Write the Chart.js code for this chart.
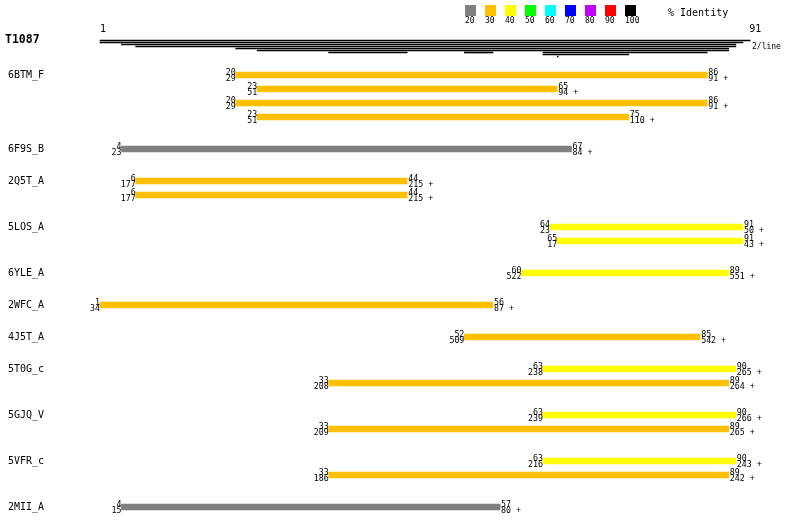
<!DOCTYPE html>
<html><head><meta charset="utf-8">
<script src="https://cdn.jsdelivr.net/npm/chart.js@4/dist/chart.umd.min.js"></script>
<style>html,body{margin:0;padding:0;background:#fff}#wrap{width:800px;height:524px;position:relative;background:#fff}</style>
</head><body><div id="wrap"><canvas id="c" width="800" height="524"></canvas></div>
<script>
// ---------------- data ----------------
const queryName = 'T1087';
const queryLength = 91;
const hitsPerLine = 2;
const groupNames = ['6BTM_F','6F9S_B','2Q5T_A','5LOS_A','6YLE_A','2WFC_A','4J5T_A','5T0G_c','5GJQ_V','5VFR_c','2MII_A'];
const hitGroup      = [0,0,0,0,1,2,2,3,3,4,5,6,7,7,8,8,9,9,10];
const queryStart    = [20,23,20,23,4,6,6,64,65,60,1,52,63,33,63,33,63,33,4];
const queryEnd      = [86,65,86,75,67,44,44,91,91,89,56,85,90,89,90,89,90,89,57];
const templateStart = [29,51,29,51,23,177,177,23,17,522,34,509,238,208,239,209,216,186,15];
const templateEnd   = [91,94,91,110,84,215,215,50,43,551,87,542,265,264,266,265,243,242,80];
const identity      = [30,30,30,30,20,30,30,40,40,40,30,30,40,30,40,30,40,30,20];
const identityBins  = [20,30,40,50,60,70,80,90,100];
const legendTitle = '% Identity';

// ---------------- styles / layout ----------------
const binColors = ['#808080','#ffc000','#ffff00','#00ff00','#00ffff','#0000ff','#c000ff','#ff0000','#000000'];
const firstRowY = 75, rowStep = 14, groupStep = 32;
const coverageTopY = 40.5, coverageStep = 2;

// row positions from group structure
const rowY = [];
hitGroup.forEach((g, i) => {
  if (i === 0) rowY.push(firstRowY);
  else rowY.push(rowY[i-1] + (g === hitGroup[i-1] ? rowStep : groupStep));
});

// coverage depth summary (one line per hitsPerLine hits)
const depth = [];
for (let r = 1; r <= queryLength; r++) {
  let d = 0;
  for (let i = 0; i < queryStart.length; i++) if (queryStart[i] <= r && r <= queryEnd[i]) d++;
  depth.push(d);
}
const coverageData = [{x:[1, queryLength + 1], y: coverageTopY}];
for (let k = 1; ; k++) {
  const thr = hitsPerLine * (k - 1) + 1;
  let any = false, s = null;
  for (let r = 1; r <= queryLength + 1; r++) {
    const ok = r <= queryLength && depth[r-1] >= thr;
    if (ok && s === null) s = r;
    if (!ok && s !== null) { coverageData.push({x:[s, r-1], y: coverageTopY + coverageStep * k}); s = null; any = true; }
  }
  if (!any) break;
}

const hitData = queryStart.map((s, i) => ({x:[s, queryEnd[i]], y: rowY[i]}));
const hitColors = identity.map(v => binColors[identityBins.indexOf(v)]);

const MONO = '"DejaVu Sans Mono", monospace';

const labelPlugin = {
  id: 'labels',
  afterDatasetsDraw(chart) {
    const ctx = chart.ctx, xs = chart.scales.x, ys = chart.scales.y;
    ctx.save();
    ctx.fillStyle = '#000';
    // legend
    identityBins.forEach((b, i) => {
      const lx = 465 + 20 * i;
      ctx.fillStyle = binColors[i];
      ctx.fillRect(lx, 5, 11, 11);
      ctx.fillStyle = '#000';
      ctx.font = '8px ' + MONO; ctx.textAlign = 'left'; ctx.textBaseline = 'alphabetic';
      ctx.fillText(String(b), lx, 22.5);
    });
    ctx.font = '10px ' + MONO;
    ctx.fillText(legendTitle, 668, 15.5);
    // query header
    ctx.font = 'bold 11.5px ' + MONO;
    ctx.fillText(queryName, 5, 43);
    ctx.font = '10px ' + MONO;
    ctx.fillText('1', xs.getPixelForValue(1), 31.5);
    ctx.fillText(String(queryLength), xs.getPixelForValue(queryLength + 1) - 1, 31.5);
    ctx.font = '8px ' + MONO;
    ctx.fillText(hitsPerLine + '/line', 752, 48.5);
    // group names
    ctx.font = '10px ' + MONO; ctx.textBaseline = 'middle';
    groupNames.forEach((n, g) => {
      const i = hitGroup.indexOf(g);
      ctx.fillText(n, 8, ys.getPixelForValue(rowY[i]));
    });
    // residue numbers
    ctx.font = '8.3px ' + MONO; ctx.textBaseline = 'alphabetic';
    queryStart.forEach((s, i) => {
      const y = ys.getPixelForValue(rowY[i]);
      const x0 = xs.getPixelForValue(s), x1 = xs.getPixelForValue(queryEnd[i]);
      ctx.textAlign = 'right';
      ctx.fillText(String(s), x0, y - 0.5);
      ctx.fillText(String(templateStart[i]), x0, y + 5.5);
      ctx.textAlign = 'left';
      ctx.fillText(String(queryEnd[i]), x1 + 1, y - 0.5);
      ctx.fillText(templateEnd[i] + ' +', x1 + 1, y + 5.5);
    });
    ctx.restore();
  }
};

new Chart(document.getElementById('c').getContext('2d'), {
  type: 'bar',
  data: {
    datasets: [
      {label: 'coverage', data: coverageData, backgroundColor: '#000', barThickness: 1, minBarLength: 1, grouped: false, clip: false, borderWidth: 0},
      {label: 'hits', data: hitData, backgroundColor: hitColors, barThickness: 6, grouped: false, clip: false, borderWidth: 0}
    ]
  },
  options: {
    indexAxis: 'y',
    responsive: false,
    animation: false,
    devicePixelRatio: 1,
    layout: {padding: {left: 100, right: 57, top: 0, bottom: 0}},
    scales: {
      x: {type: 'linear', min: 1, max: queryLength, display: false, offset: false},
      y: {type: 'linear', min: 0, max: 524, reverse: true, display: false, offset: false}
    },
    plugins: {legend: {display: false}, tooltip: {enabled: false}}
  },
  plugins: [labelPlugin]
});
</script>
</body></html>
